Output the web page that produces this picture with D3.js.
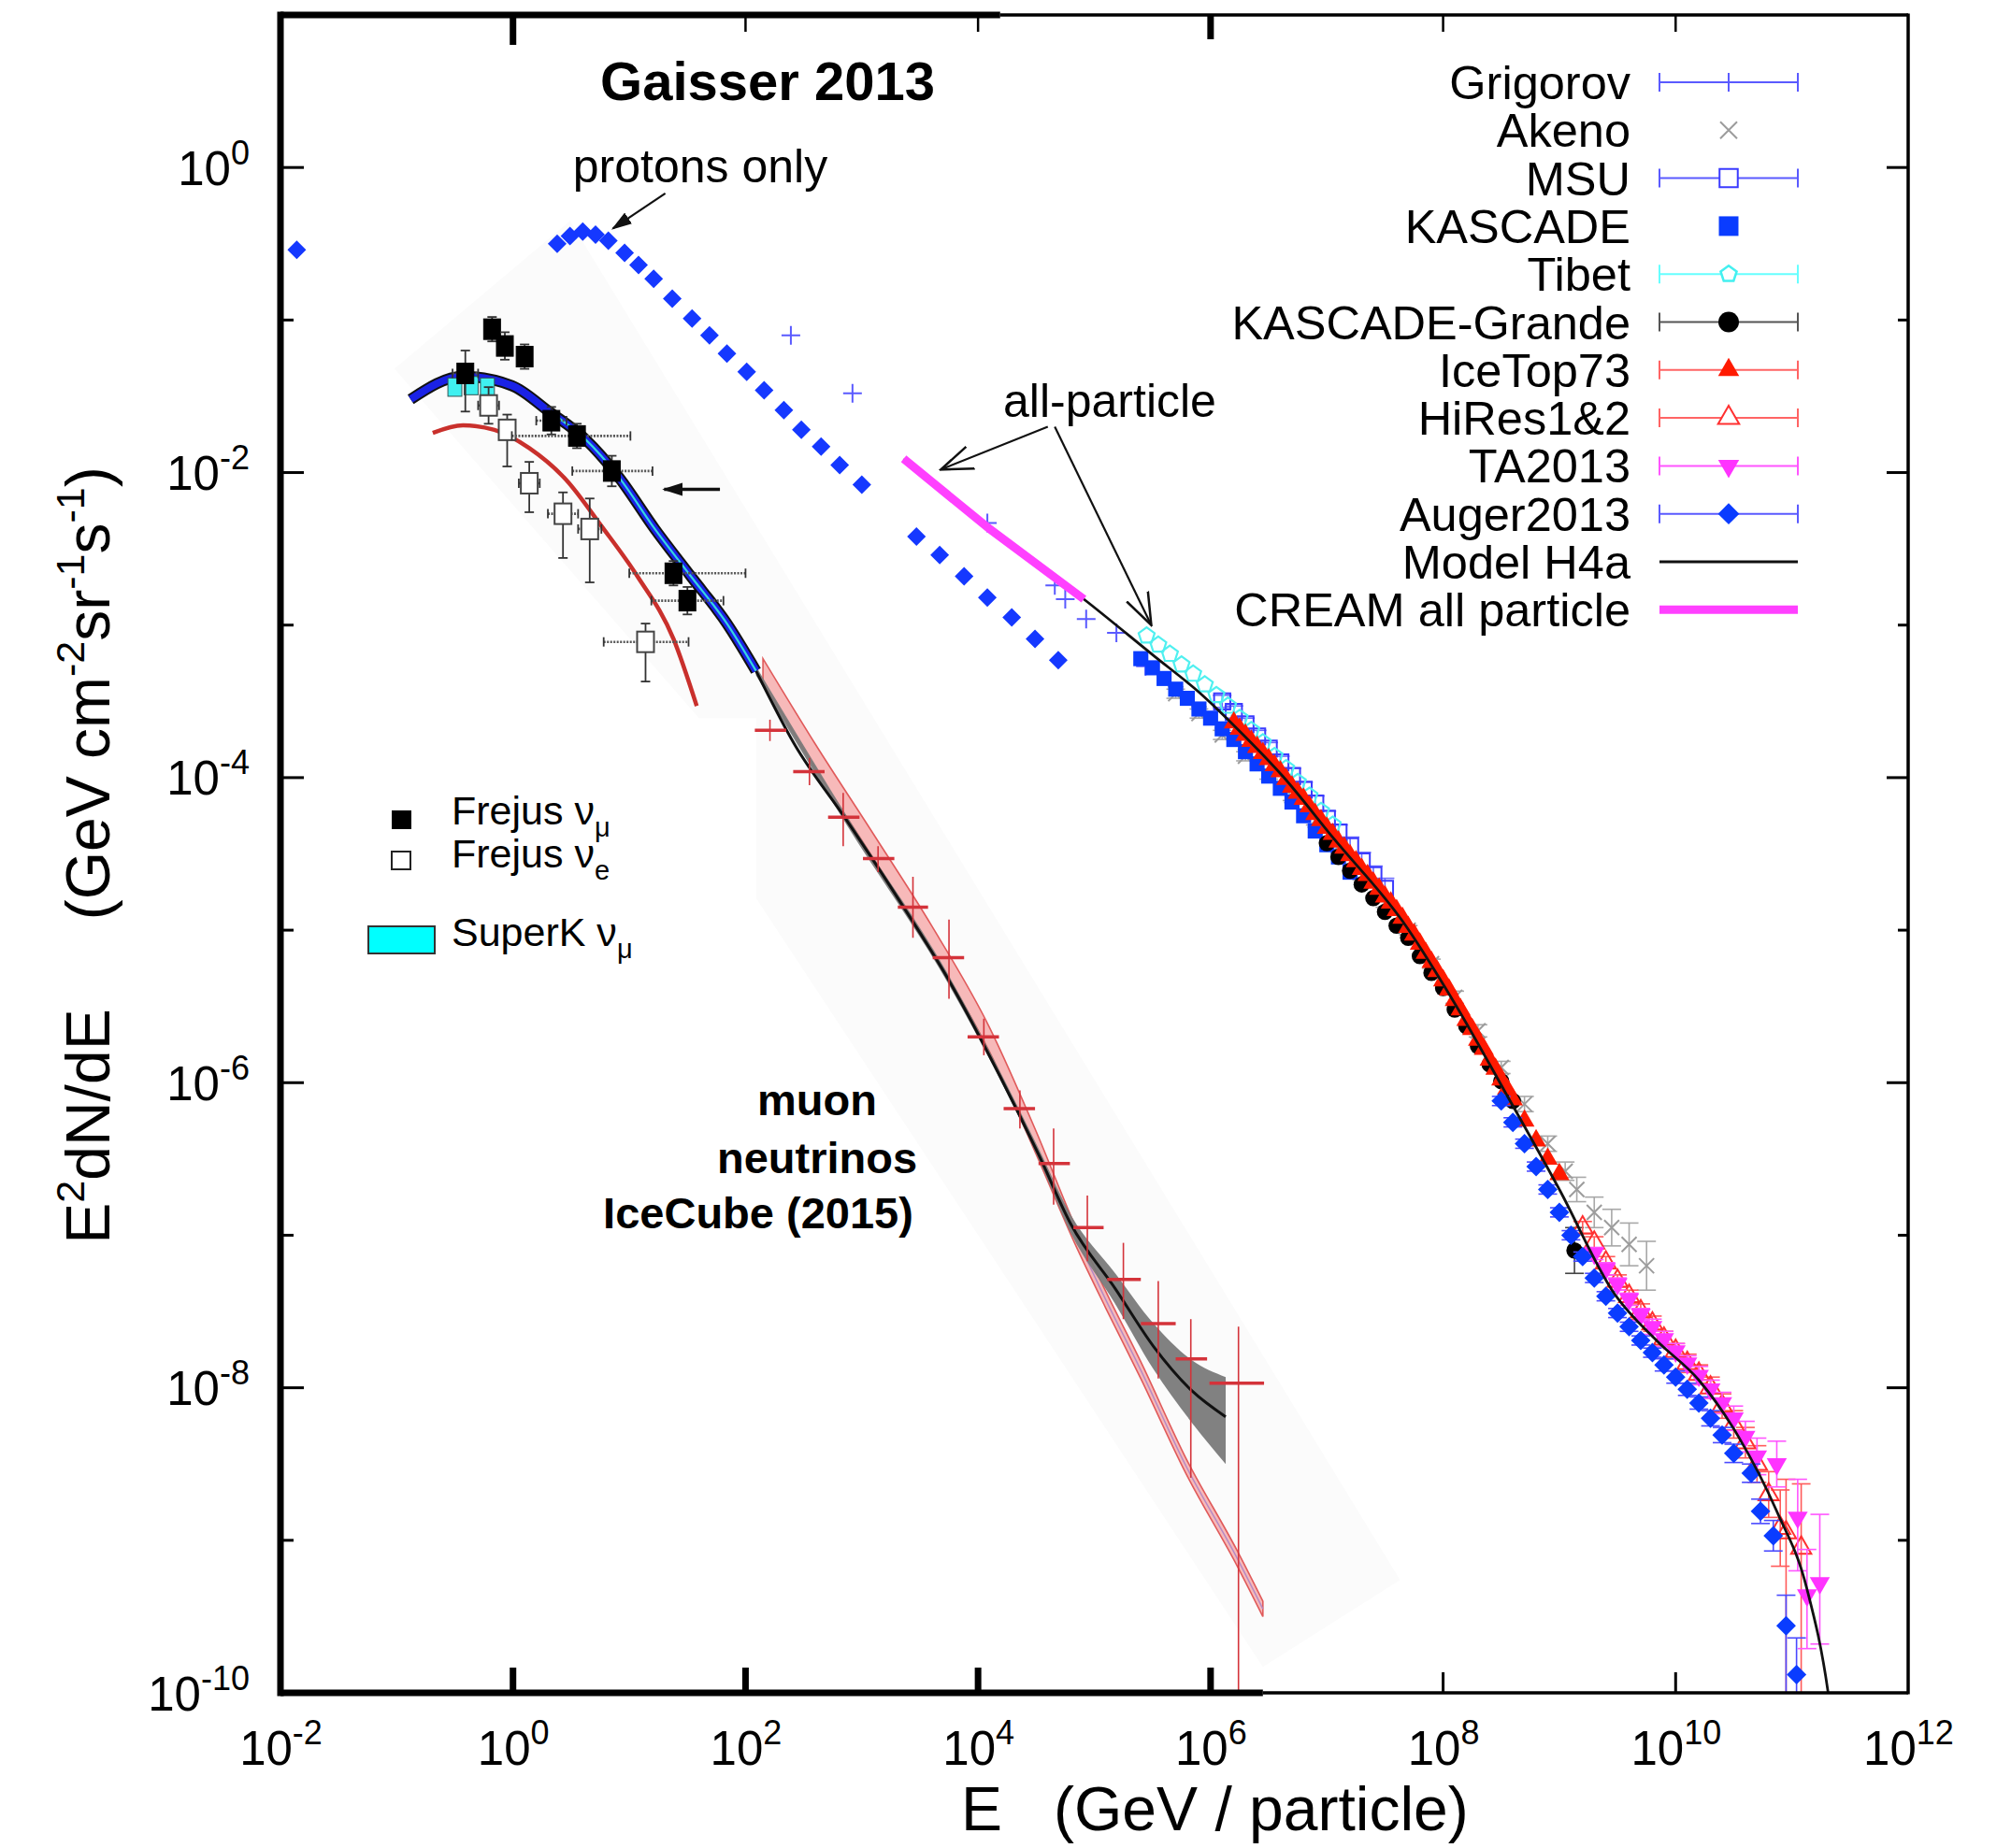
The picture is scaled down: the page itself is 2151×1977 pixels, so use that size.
<!DOCTYPE html>
<head>
<meta charset="utf-8">
<style>
  body { margin:0; background:#fff; }
  svg { display:block; font-family:"Liberation Sans", Arial, sans-serif; }
</style>
<script src="https://d3js.org/d3.v7.min.js"></script>
</head>
<body>
<script>

var width = 2151, height = 1977;
var L = 300, R = 2041, T = 16, B = 1811;

// all values are [log10 E (GeV), log10 E^2 dN/dE, ...errors in log units]
var protonsA = [[-1.86,-0.54],[0.38,-0.50],[0.49,-0.45],[0.60,-0.42],[0.71,-0.44],[0.82,-0.48],[0.96,-0.56],[1.08,-0.64],[1.21,-0.73],[1.37,-0.86],[1.54,-0.99],[1.69,-1.10],[1.84,-1.22],[2.01,-1.34],[2.16,-1.46],[2.33,-1.59],[2.48,-1.72],[2.65,-1.83],[2.81,-1.95],[3.00,-2.08]];
var protonsB = [[3.47,-2.42],[3.67,-2.54],[3.88,-2.68],[4.08,-2.82],[4.29,-2.95],[4.49,-3.09],[4.69,-3.23]];
var cream = [[3.36,-1.91],[4.10,-2.37],[4.91,-2.83]];
var modelH4a = [[3.36,-1.91],[4.19,-2.42],[4.91,-2.83],[5.51,-3.20],[5.90,-3.44],[6.23,-3.68],[6.62,-3.99],[7.06,-4.40],[7.65,-4.94],[8.10,-5.48],[8.54,-6.07],[9.00,-6.70],[9.47,-7.38],[9.85,-7.70],[10.20,-7.95],[10.54,-8.32],[10.87,-8.81],[11.13,-9.32],[11.31,-9.99],[11.33,-10.1]];
var grigorov = [[2.39,-1.10],[2.92,-1.48],[4.08,-2.33],[4.66,-2.74],[4.75,-2.83],[4.93,-2.96],[5.19,-3.05],[5.44,-3.27]];
var akeno = [[5.7,-3.45,0.03],[5.9,-3.58,0.03],[6.1,-3.72,0.03],[6.3,-3.86,0.03],[6.5,-3.98,0.03],[6.7,-4.12,0.03],[6.9,-4.28,0.03],[7.1,-4.45,0.03],[7.3,-4.64,0.03],[7.5,-4.82,0.03],[7.7,-5.00,0.03],[7.9,-5.22,0.03],[8.1,-5.44,0.04],[8.3,-5.66,0.04],[8.5,-5.90,0.04],[8.7,-6.14,0.05],[8.9,-6.40,0.05],[9.05,-6.58,0.06],[9.15,-6.70,0.08],[9.3,-6.85,0.10],[9.45,-6.95,0.12],[9.6,-7.06,0.14],[9.75,-7.20,0.16]];
var msu = [[6.1,-3.50,0.04],[6.2,-3.57,0.04],[6.3,-3.65,0.04],[6.4,-3.73,0.04],[6.5,-3.81,0.04],[6.6,-3.90,0.04],[6.7,-3.99,0.05],[6.8,-4.08,0.05],[6.9,-4.17,0.05],[7.0,-4.27,0.05],[7.1,-4.36,0.05],[7.2,-4.45,0.06],[7.3,-4.55,0.06],[7.4,-4.64,0.06],[7.5,-4.73,0.07]];
var kascade = [[5.4,-3.22],[5.5,-3.28],[5.6,-3.35],[5.7,-3.42],[5.8,-3.48],[5.9,-3.55],[6.0,-3.61],[6.1,-3.68],[6.2,-3.75],[6.3,-3.83],[6.4,-3.91],[6.5,-3.99],[6.6,-4.07],[6.7,-4.16],[6.8,-4.25],[6.9,-4.35],[7.0,-4.44],[7.1,-4.52],[7.2,-4.62]];
var tibet = [[5.45,-3.07],[5.55,-3.13],[5.65,-3.19],[5.75,-3.26],[5.85,-3.32],[5.95,-3.39],[6.05,-3.46],[6.15,-3.53],[6.25,-3.61],[6.35,-3.69],[6.45,-3.77],[6.55,-3.86],[6.65,-3.94],[6.75,-4.03],[6.85,-4.12],[6.95,-4.22],[7.05,-4.31]];
var kascadeGrande = [[7.0,-4.43],[7.1,-4.52],[7.2,-4.61],[7.3,-4.70],[7.4,-4.79],[7.5,-4.88],[7.6,-4.97],[7.7,-5.05],[7.8,-5.17],[7.9,-5.28],[8.0,-5.38],[8.1,-5.52],[8.2,-5.63],[8.3,-5.76],[8.4,-5.88],[8.5,-5.99],[8.6,-6.12],[9.13,-7.10,0.15]];
var iceTop73 = [[6.2,-3.64],[6.25,-3.68],[6.3,-3.72],[6.35,-3.76],[6.4,-3.80],[6.45,-3.84],[6.5,-3.88],[6.55,-3.92],[6.6,-3.96],[6.65,-4.01],[6.7,-4.06],[6.75,-4.10],[6.8,-4.14],[6.85,-4.19],[6.9,-4.24],[6.95,-4.28],[7.0,-4.33],[7.05,-4.37],[7.1,-4.42],[7.15,-4.46],[7.2,-4.51],[7.25,-4.55],[7.3,-4.60],[7.35,-4.64],[7.4,-4.69],[7.45,-4.73],[7.5,-4.78],[7.55,-4.82],[7.6,-4.87],[7.65,-4.92],[7.7,-4.98],[7.75,-5.03],[7.8,-5.09],[7.85,-5.15],[7.9,-5.21],[7.95,-5.27],[8.0,-5.33],[8.05,-5.39],[8.1,-5.46],[8.15,-5.52],[8.2,-5.59],[8.25,-5.65],[8.3,-5.72],[8.35,-5.78],[8.4,-5.85],[8.45,-5.91],[8.5,-5.98],[8.55,-6.04],[8.6,-6.11],[8.7,-6.25],[8.8,-6.38],[8.9,-6.50],[9.0,-6.60]];
var hiRes = [[9.2,-6.95,0.04,0.04],[9.3,-7.05,0.04,0.04],[9.4,-7.18,0.04,0.04],[9.5,-7.30,0.04,0.04],[9.6,-7.40,0.04,0.04],[9.7,-7.50,0.05,0.05],[9.8,-7.58,0.05,0.05],[9.9,-7.68,0.05,0.05],[10.0,-7.76,0.05,0.05],[10.1,-7.84,0.06,0.06],[10.2,-7.91,0.06,0.06],[10.3,-8.00,0.07,0.07],[10.4,-8.12,0.08,0.08],[10.5,-8.24,0.09,0.09],[10.6,-8.36,0.10,0.10],[10.7,-8.50,0.12,0.12],[10.8,-8.70,0.15,0.15],[10.9,-8.92,0.25,0.25],[10.95,-8.95,1.2,0.35],[11.08,-9.05,1.1,0.42]];
var ta2013 = [[9.3,-7.12,0.04,0.04],[9.4,-7.22,0.04,0.04],[9.5,-7.32,0.04,0.04],[9.6,-7.42,0.04,0.04],[9.7,-7.52,0.04,0.04],[9.8,-7.60,0.05,0.05],[9.9,-7.68,0.05,0.05],[10.0,-7.76,0.05,0.05],[10.1,-7.84,0.05,0.05],[10.2,-7.92,0.06,0.06],[10.3,-8.01,0.06,0.06],[10.4,-8.10,0.07,0.07],[10.5,-8.20,0.08,0.08],[10.6,-8.32,0.10,0.10],[10.7,-8.45,0.12,0.12],[10.87,-8.50,0.15,0.15],[11.05,-8.85,0.35,0.25],[11.13,-9.36,0.35,0.30],[11.24,-9.28,0.40,0.45]];
var auger2013 = [[8.5,-6.12,0.03,0.03],[8.6,-6.26,0.03,0.03],[8.7,-6.40,0.03,0.03],[8.8,-6.55,0.03,0.03],[8.9,-6.70,0.03,0.03],[9.0,-6.85,0.03,0.03],[9.1,-7.00,0.03,0.03],[9.2,-7.14,0.03,0.03],[9.3,-7.28,0.03,0.03],[9.4,-7.40,0.03,0.03],[9.5,-7.51,0.03,0.03],[9.6,-7.60,0.03,0.03],[9.7,-7.69,0.03,0.03],[9.8,-7.77,0.03,0.03],[9.9,-7.85,0.04,0.04],[10.0,-7.93,0.04,0.04],[10.1,-8.01,0.04,0.04],[10.2,-8.10,0.04,0.04],[10.3,-8.20,0.05,0.05],[10.4,-8.31,0.05,0.05],[10.5,-8.43,0.06,0.06],[10.65,-8.56,0.06,0.06],[10.73,-8.81,0.08,0.08],[10.84,-8.97,0.10,0.10],[10.95,-9.56,0.6,0.20],[11.04,-9.88,0.4,0.24]];

// neutrinos
var nuMuModel = [[-0.88,-1.52],[-0.43,-1.37],[-0.01,-1.43],[0.31,-1.60],[0.62,-1.78],[0.91,-2.03],[1.22,-2.37],[1.53,-2.68],[1.84,-2.99],[2.09,-3.30]];
var nuEModel = [[-0.69,-1.74],[-0.43,-1.69],[-0.16,-1.72],[0.14,-1.84],[0.46,-2.05],[0.76,-2.35],[1.07,-2.68],[1.38,-3.09],[1.58,-3.53]];
// [logE, logF, down, up, logE lo, logE hi]
var frejusMu = [[-0.41,-1.35,0.25,0.15,-0.52,-0.30],[-0.18,-1.06,0.08,0.08,-0.18,-0.18],[-0.07,-1.17,0.09,0.09,-0.07,-0.07],[0.10,-1.24,0.08,0.08,0.10,0.10],[0.33,-1.66,0.09,0.09,0.20,0.46],[0.55,-1.76,0.08,0.08,-0.01,1.01],[0.85,-1.99,0.10,0.10,0.51,1.20],[1.38,-2.66,0.08,0.08,1.00,2.00],[1.50,-2.84,0.09,0.09,1.19,1.81]];
var frejusE = [[-0.21,-1.56,0.12,0.12,-0.30,-0.12],[-0.05,-1.72,0.24,0.10,-0.05,-0.05],[0.14,-2.07,0.19,0.14,0.05,0.23],[0.43,-2.27,0.29,0.14,0.30,0.56],[0.66,-2.37,0.35,0.20,0.56,0.76],[1.14,-3.11,0.26,0.12,0.78,1.51]];
var superK = [[-0.50,-1.50,-1.38],[-0.36,-1.49,-1.37],[-0.22,-1.50,-1.38]];
// IceCube: [logE, logF, logF lo, logF hi, logE lo, logE hi]
var iceCube = [[2.21,-3.69,-3.76,-3.62,2.08,2.35],[2.55,-3.96,-4.05,-3.87,2.41,2.68],[2.84,-4.26,-4.45,-4.10,2.71,2.98],[3.14,-4.53,-4.62,-4.45,3.01,3.28],[3.44,-4.85,-5.05,-4.65,3.31,3.57],[3.75,-5.18,-5.45,-4.93,3.61,3.88],[4.05,-5.70,-5.82,-5.58,3.91,4.18],[4.36,-6.17,-6.30,-6.05,4.22,4.49],[4.65,-6.53,-6.80,-6.30,4.52,4.79],[4.94,-6.95,-7.17,-6.74,4.82,5.08],[5.25,-7.29,-7.55,-7.05,5.11,5.40],[5.55,-7.58,-7.94,-7.30,5.40,5.70],[5.83,-7.81,-8.59,-7.55,5.70,5.97],[6.24,-7.97,-10.0,-7.60,5.99,6.46]];
var iceCubeFit = [[2.09,-3.30],[2.42,-3.78],[2.87,-4.28],[3.31,-4.79],[3.75,-5.33],[4.19,-5.96],[4.52,-6.47],[4.80,-6.93],[5.18,-7.35],[5.51,-7.73],[5.84,-8.02],[6.13,-8.19]];
var iceCubeBand = [[2.09,-3.33,-3.27],[2.87,-4.31,-4.25],[3.75,-5.36,-5.30],[4.52,-6.50,-6.43],[4.80,-6.99,-6.87],[5.18,-7.45,-7.25],[5.51,-7.88,-7.58],[5.84,-8.23,-7.82],[6.13,-8.50,-7.93]];
var convBand = [[2.15,-3.37,-3.22],[2.6,-3.94,-3.78],[3.1,-4.53,-4.37],[3.6,-5.13,-4.97],[4.1,-5.80,-5.64],[4.5,-6.47,-6.32],[4.83,-7.05,-6.93],[5.1,-7.48,-7.37],[5.4,-7.94,-7.83],[5.78,-8.55,-8.45],[6.23,-9.17,-9.07],[6.45,-9.50,-9.40]];
var pasteArea = [[-1.02,-1.32],[0.49,-0.35],[7.63,-9.26],[6.45,-9.83],[2.09,-4.79],[2.09,-3.61],[1.60,-3.61]];

var xTickExp = [-2,0,2,4,6,8,10,12];
var yTickExp = [-10,-8,-6,-4,-2,0];
var legendNames = ["Grigorov","Akeno","MSU","KASCADE","Tibet","KASCADE-Grande","IceTop73","HiRes1&2","TA2013","Auger2013","Model H4a","CREAM all particle"];

var x = d3.scaleLog().domain([1e-2, 1e12]).range([L, R]);
var y = d3.scaleLog().domain([1e-10, 1e1]).range([B, T]);
function px(d) { return x(Math.pow(10, d[0])); }
function py(v) { return y(Math.pow(10, v)); }

var svg = d3.select("body").append("svg").attr("width", width).attr("height", height);
var defs = svg.append("defs");
defs.append("clipPath").attr("id", "plotclip").append("rect")
    .attr("x", L).attr("y", T).attr("width", R - L).attr("height", B - T);
defs.append("marker").attr("id", "headFill").attr("viewBox", "0 0 10 10")
    .attr("refX", 9).attr("refY", 5).attr("markerUnits", "userSpaceOnUse")
    .attr("markerWidth", 22).attr("markerHeight", 22).attr("orient", "auto")
  .append("path").attr("d", "M0,1.8L10,5L0,8.2Z").attr("fill", "#111");
defs.append("marker").attr("id", "headOpen").attr("viewBox", "0 0 10 10")
    .attr("refX", 9.5).attr("refY", 5).attr("markerUnits", "userSpaceOnUse")
    .attr("markerWidth", 36).attr("markerHeight", 36).attr("orient", "auto")
  .append("path").attr("d", "M0,1.5L9.5,5L0,8.5").attr("fill", "none").attr("stroke", "#111").attr("stroke-width", 0.7);

var plot = svg.append("g").attr("clip-path", "url(#plotclip)");

var curve = d3.line().x(px).y(function(d) { return py(d[1]); }).curve(d3.curveMonotoneX);
var straight = d3.line().x(px).y(function(d) { return py(d[1]); });
var band = d3.area().x(px).y0(function(d) { return py(d[1]); }).y1(function(d) { return py(d[2]); }).curve(d3.curveMonotoneX);

// faint pasted panel behind the neutrino data
plot.append("path").attr("d", straight(pasteArea) + "Z").attr("fill", "#fbfbfb");

// marker shapes
var shapes = {
  diamond: d3.symbol().type(d3.symbolSquare).size(200)(),
  square: d3.symbol().type(d3.symbolSquare).size(260)(),
  circle: d3.symbol().type(d3.symbolCircle).size(240)(),
  triangle: d3.symbol().type(d3.symbolTriangle).size(200)(),
  plus: "M-10,0H10M0,-10V10",
  cross: "M-8,-8L8,8M-8,8L8,-8",
  pentagon: (function(r) {
    var p = [];
    for (var i = 0; i < 5; i++) { var a = -Math.PI / 2 + i * 2 * Math.PI / 5; p.push([r * Math.cos(a), r * Math.sin(a)]); }
    return "M" + p.join("L") + "Z";
  })(9)
};

function drawSet(data, o) {
  var g = plot.append("g");
  data.forEach(function(d) {
    if (d.length > 2) {
      var dn = d[2], up = d.length > 3 ? d[3] : d[2];
      var cx = px(d);
      g.append("line").attr("x1", cx).attr("x2", cx).attr("y1", py(d[1] - dn)).attr("y2", py(d[1] + up))
        .attr("stroke", o.bar).attr("stroke-width", 1.6);
      [d[1] - dn, d[1] + up].forEach(function(v) {
        g.append("line").attr("x1", cx - 10).attr("x2", cx + 10).attr("y1", py(v)).attr("y2", py(v))
          .attr("stroke", o.bar).attr("stroke-width", 1.6);
      });
    }
  });
  g.selectAll("path").data(data).enter().append("path")
    .attr("d", o.shape)
    .attr("transform", function(d) { return "translate(" + px(d) + "," + py(d[1]) + ")" + (o.rot ? " rotate(" + o.rot + ")" : ""); })
    .attr("fill", o.fill || "none")
    .attr("stroke", o.stroke || "none")
    .attr("stroke-width", o.sw || 0);
}

// ---------- neutrino part ----------
plot.append("path").attr("d", band(convBand)).attr("fill", "#f7b9b9").attr("stroke", "#e05a5a").attr("stroke-width", 1.6);
plot.append("path").attr("d", curve(convBand.filter(function(d) { return d[0] > 4.7; }).map(function(d) { return [d[0], (d[1] + d[2]) / 2]; })))
    .attr("fill", "none").attr("stroke", "#b58ac4").attr("stroke-width", 1.5);
plot.append("path").attr("d", band(iceCubeBand)).attr("fill", "#7a7a7a").attr("opacity", 0.95);
plot.append("path").attr("d", curve(iceCubeFit)).attr("fill", "none").attr("stroke", "#111").attr("stroke-width", 3);

var ic = plot.append("g").attr("stroke", "#d4333a");
iceCube.forEach(function(d) {
  ic.append("line").attr("x1", px(d)).attr("x2", px(d)).attr("y1", py(d[2])).attr("y2", py(d[3])).attr("stroke-width", 1.6);
  ic.append("line").attr("x1", x(Math.pow(10, d[4]))).attr("x2", x(Math.pow(10, d[5]))).attr("y1", py(d[1])).attr("y2", py(d[1])).attr("stroke-width", 3.5);
});

plot.append("path").attr("d", curve(nuEModel)).attr("fill", "none").attr("stroke", "#c9302c").attr("stroke-width", 4.5);
plot.append("path").attr("d", curve(nuMuModel)).attr("fill", "none").attr("stroke", "#111").attr("stroke-width", 12);
plot.append("path").attr("d", curve(nuMuModel)).attr("fill", "none").attr("stroke", "#1a22e6").attr("stroke-width", 8);
plot.append("path").attr("d", curve(nuMuModel.slice(3))).attr("fill", "none").attr("stroke", "#35d6e0").attr("stroke-width", 2.2);
superK.forEach(function(d) {
  plot.append("rect").attr("x", x(Math.pow(10, d[0] - 0.06))).attr("width", x(Math.pow(10, d[0] + 0.06)) - x(Math.pow(10, d[0] - 0.06)))
    .attr("y", py(d[2])).attr("height", py(d[1]) - py(d[2])).attr("fill", "#3ff0f0").attr("stroke", "#355").attr("stroke-width", 1);
});

function drawFrejus(data, filled) {
  var g = plot.append("g").attr("stroke", "#333");
  data.forEach(function(d) {
    var cx = px(d), cy = py(d[1]);
    g.append("line").attr("x1", cx).attr("x2", cx).attr("y1", py(d[1] - d[2])).attr("y2", py(d[1] + d[3])).attr("stroke-width", 1.8);
    [d[1] - d[2], d[1] + d[3]].forEach(function(v) {
      g.append("line").attr("x1", cx - 5).attr("x2", cx + 5).attr("y1", py(v)).attr("y2", py(v)).attr("stroke-width", 1.8);
    });
    if (d[5] > d[4]) {
      g.append("line").attr("x1", x(Math.pow(10, d[4]))).attr("x2", x(Math.pow(10, d[5]))).attr("y1", cy).attr("y2", cy)
        .attr("stroke", "#555").attr("stroke-width", 2.6).attr("stroke-dasharray", "2,1.5");
      [d[4], d[5]].forEach(function(v) {
        g.append("line").attr("x1", x(Math.pow(10, v))).attr("x2", x(Math.pow(10, v))).attr("y1", cy - 5).attr("y2", cy + 5).attr("stroke-width", 1.8);
      });
    }
    g.append("rect").attr("x", cx - 9).attr("y", cy - 11).attr("width", 18).attr("height", 22)
      .attr("fill", filled ? "#000" : "#fff").attr("stroke", filled ? "#000" : "#444").attr("stroke-width", filled ? 1 : 2);
  });
}
drawFrejus(frejusE, false);
drawFrejus(frejusMu, true);

// ---------- cosmic rays ----------
drawSet(protonsA, { shape: shapes.diamond, rot: 45, fill: "#1538ff" });
drawSet(protonsB, { shape: shapes.diamond, rot: 45, fill: "#1538ff" });
drawSet(akeno, { shape: shapes.cross, stroke: "#9c9c9c", sw: 2, bar: "#a8a8a8" });
drawSet(grigorov, { shape: shapes.plus, stroke: "#5a5aff", sw: 2 });
drawSet(msu, { shape: d3.symbol().type(d3.symbolSquare).size(300)(), stroke: "#3b3bff", sw: 2, bar: "#6a6aff" });
drawSet(tibet, { shape: shapes.pentagon, stroke: "#4ff0f0", sw: 2.2 });
drawSet(kascade, { shape: shapes.square, fill: "#0a3cff" });
drawSet(kascadeGrande, { shape: shapes.circle, fill: "#000", bar: "#444" });
drawSet(iceTop73, { shape: shapes.triangle, fill: "#ff1a00" });
drawSet(hiRes, { shape: shapes.triangle, stroke: "#ff3030", sw: 2, bar: "#ff5a5a" });
drawSet(ta2013, { shape: shapes.triangle, rot: 180, fill: "#ff33ff", bar: "#ff55ff" });
drawSet(auger2013, { shape: d3.symbol().type(d3.symbolSquare).size(220)(), rot: 45, fill: "#0a3cff", bar: "#4a4aff" });

plot.append("path").attr("d", curve(modelH4a)).attr("fill", "none").attr("stroke", "#111").attr("stroke-width", 2.8);
plot.append("path").attr("d", straight(cream)).attr("fill", "none").attr("stroke", "#ff40ff").attr("stroke-width", 9);

// ---------- annotations ----------
var ann = svg.append("g");
function arrow(from, to, head, w) {
  ann.append("line").attr("x1", px(from)).attr("y1", py(from[1])).attr("x2", px(to)).attr("y2", py(to[1]))
    .attr("stroke", "#111").attr("stroke-width", w).attr("marker-end", "url(#" + head + ")");
}
arrow([1.31, -0.17], [0.86, -0.40], "headFill", 2.2);
arrow([1.78, -2.11], [1.30, -2.11], "headFill", 3.5);
arrow([4.60, -1.70], [3.68, -1.98], "headOpen", 2.2);
arrow([4.66, -1.70], [5.49, -3.00], "headOpen", 2.2);

ann.append("text").attr("x", 821).attr("y", 107).attr("text-anchor", "middle").attr("font-size", 58).attr("font-weight", "bold").text("Gaisser 2013");
ann.append("text").attr("x", 749).attr("y", 195).attr("text-anchor", "middle").attr("font-size", 50).text("protons only");
ann.append("text").attr("x", 1187).attr("y", 446).attr("text-anchor", "middle").attr("font-size", 50).text("all-particle");
ann.append("text").attr("x", 874).attr("y", 1193).attr("text-anchor", "middle").attr("font-size", 47).attr("font-weight", "bold").text("muon");
ann.append("text").attr("x", 874).attr("y", 1255).attr("text-anchor", "middle").attr("font-size", 47).attr("font-weight", "bold").text("neutrinos");
ann.append("text").attr("x", 811).attr("y", 1314).attr("text-anchor", "middle").attr("font-size", 47).attr("font-weight", "bold").text("IceCube (2015)");

// neutrino legend
var nl = svg.append("g").attr("font-size", 43);
nl.append("rect").attr("x", 419).attr("y", 867).attr("width", 21).attr("height", 20).attr("fill", "#000");
nl.append("rect").attr("x", 419).attr("y", 911).attr("width", 20).attr("height", 19).attr("fill", "#fff").attr("stroke", "#222").attr("stroke-width", 2);
nl.append("rect").attr("x", 394).attr("y", 991).attr("width", 71).attr("height", 29).attr("fill", "#00ffff").attr("stroke", "#333").attr("stroke-width", 2);
[["Frejus ν", "μ", 882], ["Frejus ν", "e", 928], ["SuperK ν", "μ", 1012]].forEach(function(r) {
  var t = nl.append("text").attr("x", 483).attr("y", r[2]);
  t.append("tspan").text(r[0]);
  t.append("tspan").attr("font-size", 29).attr("dy", 13).text(r[1]);
});

// ---------- legend ----------
var lg = svg.append("g");
var lx0 = 1775, lx1 = 1923, lxc = 1849;
function legLine(cy, color, w) {
  lg.append("line").attr("x1", lx0).attr("x2", lx1).attr("y1", cy).attr("y2", cy).attr("stroke", color).attr("stroke-width", w);
}
function legCaps(cy, color) {
  [lx0, lx1].forEach(function(v) {
    lg.append("line").attr("x1", v).attr("x2", v).attr("y1", cy - 10).attr("y2", cy + 10).attr("stroke", color).attr("stroke-width", 2);
  });
}
function legMark(cy, shape, o) {
  lg.append("path").attr("d", shape).attr("transform", "translate(" + lxc + "," + cy + ")" + (o.rot ? " rotate(" + o.rot + ")" : ""))
    .attr("fill", o.fill || "none").attr("stroke", o.stroke || "none").attr("stroke-width", o.sw || 0);
}
legendNames.forEach(function(name, i) {
  var cy = 88 + i * 51.3;
  lg.append("text").attr("x", 1744).attr("y", cy + 18).attr("text-anchor", "end").attr("font-size", 50.5).text(name);
  if (name === "Grigorov") { legLine(cy, "#5a5aff", 2); legCaps(cy, "#5a5aff"); legMark(cy, "M0,-10V10", { stroke: "#5a5aff", sw: 2 }); }
  if (name === "Akeno") { legMark(cy, "M-9,-9L9,9M-9,9L9,-9", { stroke: "#9c9c9c", sw: 2 }); }
  if (name === "MSU") { legLine(cy, "#5a5aff", 2); legCaps(cy, "#5a5aff"); legMark(cy, d3.symbol().type(d3.symbolSquare).size(380)(), { fill: "#fff", stroke: "#3b3bff", sw: 2 }); }
  if (name === "KASCADE") { legMark(cy, d3.symbol().type(d3.symbolSquare).size(440)(), { fill: "#0a3cff" }); }
  if (name === "Tibet") { legLine(cy, "#66ffff", 2); legCaps(cy, "#66ffff"); legMark(cy, shapes.pentagon, { fill: "#fff", stroke: "#44f0f0", sw: 2.5 }); }
  if (name === "KASCADE-Grande") { legLine(cy, "#555", 2); legCaps(cy, "#555"); legMark(cy, d3.symbol().type(d3.symbolCircle).size(380)(), { fill: "#000" }); }
  if (name === "IceTop73") { legLine(cy, "#ff6464", 2); legCaps(cy, "#ff6464"); legMark(cy, d3.symbol().type(d3.symbolTriangle).size(220)(), { fill: "#ff1a00" }); }
  if (name === "HiRes1&2") { legLine(cy, "#ff6464", 2); legCaps(cy, "#ff6464"); legMark(cy, d3.symbol().type(d3.symbolTriangle).size(220)(), { fill: "#fff", stroke: "#ff3030", sw: 2 }); }
  if (name === "TA2013") { legLine(cy, "#ff55ff", 2); legCaps(cy, "#ff55ff"); legMark(cy, d3.symbol().type(d3.symbolTriangle).size(220)(), { fill: "#ff33ff", rot: 180 }); }
  if (name === "Auger2013") { legLine(cy, "#5a5aff", 2); legCaps(cy, "#5a5aff"); legMark(cy, d3.symbol().type(d3.symbolSquare).size(260)(), { fill: "#0a3cff", rot: 45 }); }
  if (name === "Model H4a") { legLine(cy, "#111", 3); }
  if (name === "CREAM all particle") { legLine(cy, "#ff40ff", 9); }
});

// ---------- frame and ticks ----------
var fr = svg.append("g").attr("stroke", "#000");
var xThickEnd = x(Math.pow(10, 6.45)), xTopThickEnd = x(Math.pow(10, 4.19));
fr.append("line").attr("x1", L).attr("x2", xTopThickEnd).attr("y1", T).attr("y2", T).attr("stroke-width", 7);
fr.append("line").attr("x1", xTopThickEnd).attr("x2", R).attr("y1", T).attr("y2", T).attr("stroke-width", 3.5);
fr.append("line").attr("x1", L).attr("x2", xThickEnd).attr("y1", B).attr("y2", B).attr("stroke-width", 7);
fr.append("line").attr("x1", xThickEnd).attr("x2", R).attr("y1", B).attr("y2", B).attr("stroke-width", 3.5);
fr.append("line").attr("x1", L).attr("x2", L).attr("y1", T - 3.5).attr("y2", B + 3.5).attr("stroke-width", 7);
fr.append("line").attr("x1", R).attr("x2", R).attr("y1", T - 1.5).attr("y2", B + 1.5).attr("stroke-width", 3.5);

[[0, 7, 27], [2, 7, 27], [4, 7, 27], [6, 7, 27], [8, 3, 22], [10, 3, 22]].forEach(function(t) {
  var tx = x(Math.pow(10, t[0]));
  fr.append("line").attr("x1", tx).attr("x2", tx).attr("y1", B).attr("y2", B - t[2]).attr("stroke-width", t[1]);
});
[[0, 7, 32], [6, 7, 26], [2, 2.5, 18], [4, 2.5, 18], [8, 2.5, 18], [10, 2.5, 18]].forEach(function(t) {
  var tx = x(Math.pow(10, t[0]));
  fr.append("line").attr("x1", tx).attr("x2", tx).attr("y1", T).attr("y2", T + t[2]).attr("stroke-width", t[1]);
});
d3.range(-9, 1).forEach(function(e) {
  var ty = y(Math.pow(10, e)), major = (e % 2 === 0);
  fr.append("line").attr("x1", L).attr("x2", L + (major ? 25 : 14)).attr("y1", ty).attr("y2", ty).attr("stroke-width", 3);
  fr.append("line").attr("x1", R).attr("x2", R - (major ? 23 : 11)).attr("y1", ty).attr("y2", ty).attr("stroke-width", 3);
});

function supLabel(sel, big, small, dy) {
  sel.each(function(d) {
    var t = d3.select(this).text(null);
    t.append("tspan").attr("font-size", big).text("10");
    t.append("tspan").attr("font-size", small).attr("dy", dy).text(String(Math.round(Math.log10(d))));
  });
}
var xAx = svg.append("g").attr("transform", "translate(0," + B + ")")
  .call(d3.axisBottom(x).tickValues(xTickExp.map(function(e) { return Math.pow(10, e); })).tickSize(0).tickFormat(function() { return ""; }));
xAx.select(".domain").remove();
xAx.attr("font-family", null).attr("font-size", null);
xAx.selectAll(".tick text").attr("y", 77).attr("dy", null).attr("fill", "#000");
supLabel(xAx.selectAll(".tick text"), 51, 36, -22);

var yAx = svg.append("g").attr("transform", "translate(" + L + ",0)")
  .call(d3.axisLeft(y).tickValues(yTickExp.map(function(e) { return Math.pow(10, e); })).tickSize(0).tickFormat(function() { return ""; }));
yAx.select(".domain").remove();
yAx.attr("font-family", null).attr("font-size", null);
yAx.selectAll(".tick text").attr("x", -33).attr("dy", 18).attr("fill", "#000");
supLabel(yAx.selectAll(".tick text"), 51, 36, -22);

// axis titles
var yt = svg.append("text").attr("transform", "translate(117,915) rotate(-90)").attr("text-anchor", "middle").attr("font-size", 66);
yt.append("tspan").text("E");
yt.append("tspan").attr("font-size", 43).attr("dy", -27).text("2");
yt.append("tspan").attr("dy", 27).text("dN/dE");
yt.append("tspan").attr("dx", 95).text("(GeV cm");
yt.append("tspan").attr("font-size", 43).attr("dy", -27).text("-2");
yt.append("tspan").attr("dy", 27).text("sr");
yt.append("tspan").attr("font-size", 43).attr("dy", -27).text("-1");
yt.append("tspan").attr("dy", 27).text("s");
yt.append("tspan").attr("font-size", 43).attr("dy", -27).text("-1");
yt.append("tspan").attr("dy", 27).text(")");

svg.append("text").attr("x", 1028).attr("y", 1958).attr("font-size", 66).text("E");
svg.append("text").attr("x", 1127).attr("y", 1958).attr("font-size", 66).text("(GeV / particle)");

</script>
</body>
